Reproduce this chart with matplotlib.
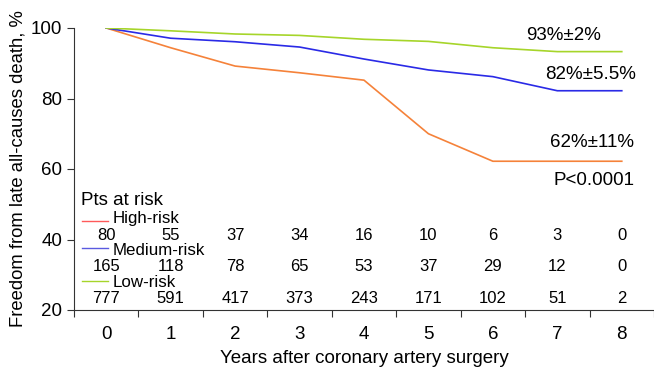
import matplotlib
matplotlib.use("Agg")
import matplotlib.pyplot as plt

plt.rcParams['font.family'] = ['Liberation Sans', 'DejaVu Sans']

years = [0, 1, 2, 3, 4, 5, 6, 7, 8]
high_risk = [100, 94.4, 89.2, 87.3, 85.2, 70.0, 62.2, 62.2, 62.2]
medium_risk = [100, 97.1, 96.1, 94.6, 91.2, 88.1, 86.2, 82.2, 82.2]
low_risk = [100, 99.2, 98.3, 97.9, 96.8, 96.2, 94.4, 93.3, 93.3]

at_risk_high = [80, 55, 37, 34, 16, 10, 6, 3, 0]
at_risk_medium = [165, 118, 78, 65, 53, 37, 29, 12, 0]
at_risk_low = [777, 591, 417, 373, 243, 171, 102, 51, 2]

group_names = ["High-risk", "Medium-risk", "Low-risk"]
end_labels = ["62%\u00b111%", "82%\u00b15.5%", "93%\u00b12%"]

fig = plt.figure(figsize=(6.54, 3.68), dpi=100)
ax = fig.add_axes([74/654, 1 - 310/368, 580/654, 282/368])

ax.plot(years, high_risk, color="#f5823a", lw=1.2)
ax.plot(years, medium_risk, color="#2a2ae6", lw=1.2)
ax.plot(years, low_risk, color="#a6d52a", lw=1.2)

ax.set_xlim(-0.5, 8.5)
ax.set_ylim(20, 100)
ax.set_yticks([20, 40, 60, 80, 100])
ax.set_xticks([x + 0.5 for x in [-1] + years])
ax.set_xticklabels([])
for x in years:
    ax.text(x, -0.055, str(x), transform=ax.get_xaxis_transform(),
            ha="center", va="top", fontsize=13.5)
ax.spines['top'].set_visible(False)
ax.spines['right'].set_visible(False)
ax.spines['left'].set_color("#333333")
ax.spines['bottom'].set_color("#333333")
ax.tick_params(axis='both', labelsize=13.5, length=5, color="#333333")
ax.set_xlabel("Years after coronary artery surgery", fontsize=13.5, labelpad=20)
ax.set_ylabel("Freedom from late all-causes death, %", fontsize=13.3, labelpad=3)

# end-of-curve labels
ax.text(7.67, 98.0, end_labels[2], ha="right", va="center", fontsize=13.5)
ax.text(8.22, 86.7, end_labels[1], ha="right", va="center", fontsize=13.5)
ax.text(8.19, 67.5, end_labels[0], ha="right", va="center", fontsize=13.5)
ax.text(8.2, 56.6, "P<0.0001", ha="right", va="center", fontsize=13.5)

# patients at risk table
ax.text(-0.39, 51.2, "Pts at risk", ha="left", va="center", fontsize=13.5)
legend_colors = ["#ff5a5a", "#5a5ae0", "#a6d52a"]
line_y = [45.3, 37.6, 28.2]
label_y = [45.9, 36.9, 27.7]
row_y = [41.2, 32.3, 23.3]
rows = [at_risk_high, at_risk_medium, at_risk_low]
for name, col, lny, ly, ry, row in zip(group_names, legend_colors, line_y, label_y, row_y, rows):
    ax.plot([-0.37, 0.03], [lny, lny], color=col, lw=1.0)
    ax.text(0.1, ly, name, ha="left", va="center", fontsize=12.2)
    for x, n in zip(years, row):
        ax.text(x, ry, str(n), ha="center", va="center", fontsize=12)

fig.savefig("out.png", dpi=100)
